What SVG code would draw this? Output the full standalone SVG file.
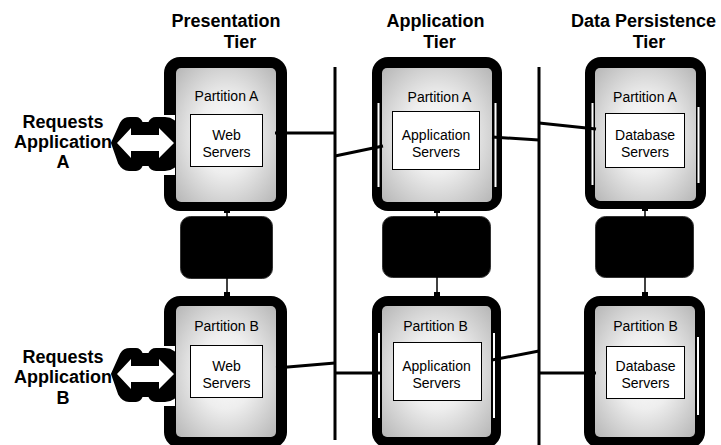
<svg xmlns="http://www.w3.org/2000/svg" width="721" height="445" viewBox="0 0 721 445">
<defs>
<radialGradient id="g" cx="50%" cy="50%" r="72%">
<stop offset="0" stop-color="#ffffff"/>
<stop offset="0.4" stop-color="#eeeeee"/>
<stop offset="1" stop-color="#b4b4b4"/>
</radialGradient>
<g id="arrow">
<rect x="163" y="115" width="12" height="60" fill="#fff"/>
<path d="M112,143 L121,123 Q124,118 130,118 L136,118 Q140,118 142,123 L149,123 Q151,118 156,118 L165,118 Q170,118 174,121 L174,167 Q170,170 165,170 L156,170 Q151,170 149,165 L142,165 Q140,170 136,170 L129,170 Q123,170 119,163 Z" fill="#000" stroke="#000" stroke-width="2" stroke-linejoin="round"/>
<path d="M117,143 L131,128 L131,135 L159,135 L159,128 L174,143 L159,158 L159,151 L131,151 L131,158 Z" fill="#fff"/>
</g>
</defs>
<style>
.outer{fill:#000}
.inner{fill:url(#g)}
.srv{fill:#fff;stroke:#000;stroke-width:1}
.mid{fill:#000;stroke:#333;stroke-width:1}
.stripe{fill:#fff}
.h{font-family:"Liberation Sans",Arial,sans-serif;font-weight:bold;font-size:18px;text-anchor:middle;fill:#000}
.t{font-family:"Liberation Sans",Arial,sans-serif;font-size:14px;text-anchor:middle;fill:#000}
.c{stroke:#000;stroke-width:3;fill:none}
.v{stroke:#000;stroke-width:1.5;fill:none}
</style>
<rect width="721" height="445" fill="#fff"/>

<g id="headings">
<text class="h" x="226" y="27">Presentation</text>
<text class="h" x="240" y="48">Tier</text>
<text class="h" x="435.5" y="27">Application</text>
<text class="h" x="439.5" y="48">Tier</text>
<text class="h" x="643.5" y="27">Data Persistence</text>
<text class="h" x="649" y="48">Tier</text>
</g>

<g id="req-label-a">
<text class="h" x="63" y="128">Requests</text>
<text class="h" x="63" y="148">Application</text>
<text class="h" x="63" y="168">A</text>
</g>
<g id="req-label-b">
<text class="h" x="63" y="363">Requests</text>
<text class="h" x="63" y="383">Application</text>
<text class="h" x="63" y="404">B</text>
</g>

<g id="pres-a">
<rect class="outer" x="164" y="57" width="123" height="154" rx="16"/>
<rect class="inner" x="176" y="68" width="100" height="134" rx="5"/>
<text class="t" x="226.5" y="101">Partition A</text>
<rect class="srv" x="190.5" y="114.5" width="72" height="52"/>
<text class="t" x="226.5" y="140">Web</text>
<text class="t" x="226.5" y="157">Servers</text>
</g>
<g id="pres-mid">
<rect class="mid" x="180.5" y="216.5" width="92" height="62" rx="10"/>
</g>
<g id="pres-b">
<rect class="outer" x="164" y="296" width="123" height="152" rx="16"/>
<rect class="inner" x="176" y="306" width="100" height="131" rx="5"/>
<text class="t" x="226.5" y="331">Partition B</text>
<rect class="srv" x="190.5" y="345.5" width="72" height="52"/>
<text class="t" x="226.5" y="371">Web</text>
<text class="t" x="226.5" y="388">Servers</text>
</g>

<g id="app-a">
<rect class="outer" x="372" y="57" width="130" height="154" rx="16"/>
<rect class="inner" x="382" y="68" width="110" height="134" rx="5"/>
<rect class="stripe" x="377.5" y="103" width="2" height="84"/>
<rect class="stripe" x="494.5" y="103" width="2" height="84"/>
<text class="t" x="439.5" y="102">Partition A</text>
<rect class="srv" x="392.5" y="111.5" width="87" height="58"/>
<text class="t" x="436" y="140">Application</text>
<text class="t" x="436" y="157">Servers</text>
</g>
<g id="app-mid">
<rect class="mid" x="382.5" y="216.5" width="108" height="61" rx="10"/>
</g>
<g id="app-b">
<rect class="outer" x="372" y="296" width="129" height="152" rx="16"/>
<rect class="inner" x="382" y="306" width="109" height="131" rx="5"/>
<rect class="stripe" x="378" y="333" width="2" height="85"/>
<rect class="stripe" x="493" y="333" width="2" height="85"/>
<text class="t" x="435.5" y="331">Partition B</text>
<rect class="srv" x="393.5" y="342.5" width="88" height="58"/>
<text class="t" x="436.5" y="371">Application</text>
<text class="t" x="436.5" y="388">Servers</text>
</g>

<g id="data-a">
<rect class="outer" x="585" y="57" width="121" height="152" rx="16"/>
<rect class="inner" x="595" y="68" width="101" height="133" rx="5"/>
<rect class="stripe" x="591.5" y="103" width="2" height="82"/>
<rect class="stripe" x="697.5" y="107" width="2" height="76"/>
<text class="t" x="645" y="102">Partition A</text>
<rect class="srv" x="605.5" y="113.5" width="79" height="54"/>
<text class="t" x="645" y="140">Database</text>
<text class="t" x="645" y="157">Servers</text>
</g>
<g id="data-mid">
<rect class="mid" x="595.5" y="216.5" width="98" height="61" rx="10"/>
</g>
<g id="data-b">
<rect class="outer" x="584" y="296" width="121" height="152" rx="16"/>
<rect class="inner" x="595" y="306" width="100" height="131" rx="5"/>
<rect class="stripe" x="697" y="337" width="2" height="78"/>
<text class="t" x="645.5" y="331">Partition B</text>
<rect class="srv" x="606.5" y="346.5" width="78" height="52"/>
<text class="t" x="645.5" y="371">Database</text>
<text class="t" x="645.5" y="388">Servers</text>
</g>

<g id="req-a">
<use href="#arrow"/>
</g>
<g id="req-b">
<use href="#arrow" transform="translate(0,231)"/>
</g>

<g id="connectors">
<line class="c" x1="335" y1="67" x2="335" y2="440"/>
<line class="c" x1="539" y1="67" x2="539" y2="445"/>
<line class="c" x1="275" y1="133" x2="335" y2="133"/>
<line class="c" x1="335" y1="156" x2="383" y2="146"/>
<line class="c" x1="492" y1="137" x2="539" y2="140"/>
<line class="c" x1="539" y1="123" x2="596" y2="129"/>
<line class="c" x1="276" y1="368" x2="335" y2="363"/>
<line class="c" x1="335" y1="373" x2="381" y2="373"/>
<line class="c" x1="492" y1="360" x2="539" y2="351"/>
<line class="c" x1="539" y1="373" x2="596" y2="373"/>
<line class="v" x1="227" y1="209" x2="227" y2="217"/>
<line class="v" x1="227" y1="278" x2="227" y2="297"/>
<rect x="224" y="209" width="6" height="4"/>
<rect x="224" y="292" width="6" height="4"/>
<line class="v" x1="437" y1="209" x2="437" y2="217"/>
<line class="v" x1="437" y1="277" x2="437" y2="297"/>
<rect x="434" y="209" width="6" height="4"/>
<rect x="434" y="292" width="6" height="4"/>
<line class="v" x1="645" y1="207" x2="645" y2="217"/>
<line class="v" x1="645" y1="277" x2="645" y2="297"/>
<rect x="642" y="207" width="6" height="4"/>
<rect x="642" y="292" width="6" height="4"/>
</g>
</svg>
